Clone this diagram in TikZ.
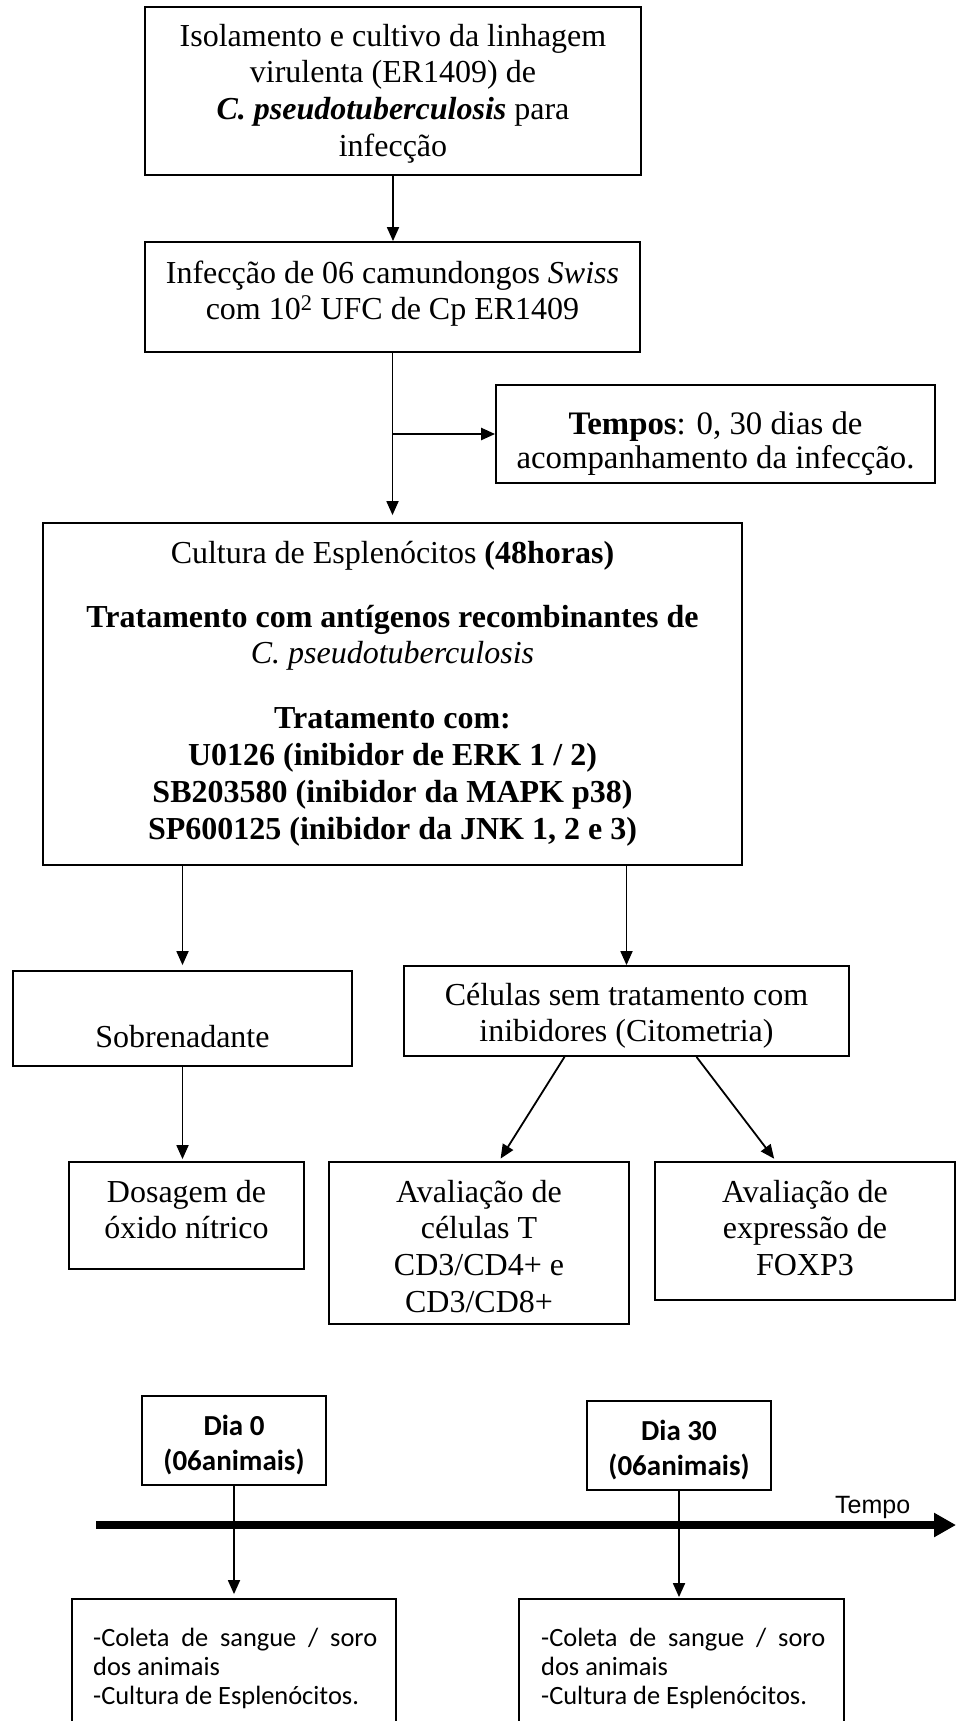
\documentclass[tikz,border=0pt]{standalone}
\usepackage{fontspec}
\setmainfont{Liberation Serif}
\newfontfamily\calfont{Carlito}
\newfontfamily\arialfont{Liberation Sans}
\usetikzlibrary{arrows.meta}
\begin{document}
\begin{tikzpicture}[x=1pt,y=-1pt,
  box/.style={draw, line width=1.8pt, inner sep=0pt},
  tx/.style={align=center, inner sep=0pt, anchor=north, font=\fontsize{32}{36.7}\selectfont},
  txd/.style={align=center, inner sep=0pt, anchor=north, font=\calfont\bfseries\fontsize{29}{35}\selectfont},
  txc/.style={align=justify, text width=284pt, inner sep=0pt, anchor=north west, font=\calfont\fontsize{26.4}{29}\selectfont},
  arr/.style={line width=1.8pt, -{Triangle[length=14pt,width=12pt]}},
]
\useasboundingbox (0,0) rectangle (956,1721);

% boxes
\node[box, minimum width=496pt, minimum height=168pt] (b1) at (393,91) {};
\node[box, minimum width=495pt, minimum height=110pt] (b2) at (392.5,297) {};
\node[box, minimum width=439pt, minimum height=98pt] (tp) at (715.5,434) {};
\node[box, minimum width=699pt, minimum height=342pt] (big) at (392.5,694) {};
\node[box, minimum width=339pt, minimum height=95pt] (sob) at (182.5,1018.5) {};
\node[box, minimum width=445pt, minimum height=90pt] (cel) at (626.5,1011) {};
\node[box, minimum width=235pt, minimum height=107pt] (dos) at (186.5,1215.5) {};
\node[box, minimum width=300pt, minimum height=162pt] (cd) at (479,1243) {};
\node[box, minimum width=300pt, minimum height=138pt] (fox) at (805,1231) {};
\node[box, minimum width=184pt, minimum height=89pt] (d0) at (234,1440.5) {};
\node[box, minimum width=184pt, minimum height=89pt] (d30) at (679,1445.5) {};
\node[box, minimum width=324pt, minimum height=161pt] (bl) at (234,1679.5) {};
\node[box, minimum width=325pt, minimum height=161pt] (br) at (681.5,1679.5) {};

% texts
\node[tx] (t1) at (393,20.3) {\strut Isolamento e cultivo da linhagem\\ virulenta (ER1409) de\\ \textbf{\textit{C. pseudotuberculosis}} para\\ infecção};
\node[tx] (t2) at (392.5,257.3) {\strut Infecção de 06 camundongos \textit{Swiss}\\ com 10\textsuperscript{2} UFC de Cp ER1409};
\node[tx, font=\fontsize{32.8}{34}\selectfont] (t3) at (715.5,410.2) {\strut\textbf{Tempos}: 0, 30 dias de\\ acompanhamento da infecção.};
\node[tx] (t4) at (392.5,537.3) {\strut Cultura de Esplenócitos \textbf{(48horas)}\\[27.3pt]
  \textbf{Tratamento com antígenos recombinantes de}\\
  \textit{C. pseudotuberculosis}\\[28.3pt]
  \textbf{Tratamento com:}\\
  \textbf{U0126 (inibidor de ERK 1 / 2)}\\
  \textbf{SB203580 (inibidor da MAPK p38)}\\
  \textbf{SP600125 (inibidor da JNK 1, 2 e 3)}};
\node[tx] (t5) at (182.5,1021.3) {\strut Sobrenadante};
\node[tx] (t6) at (626.5,979.3) {\strut Células sem tratamento com\\ inibidores (Citometria)};
\node[tx] (t7) at (186.5,1176.3) {\strut Dosagem de\\ óxido nítrico};
\node[tx] (t8) at (479,1176.3) {\strut Avaliação de\\ células T\\ CD3/CD4+ e\\ CD3/CD8+};
\node[tx] (t9) at (805,1176.3) {\strut Avaliação de\\ expressão de\\ FOXP3};

% arrows
\draw[arr] (b1.south) -- (b1.south |- b2.north);
\draw[arr, shorten >=7pt] (b2.south) -- (b2.south |- big.north);
\draw[arr, line width=2.4pt] (b2.south |- tp.west) -- (tp.west);
\draw[arr, shorten >=5pt] (sob.north |- big.south) -- (sob.north);
\draw[arr] (cel.north |- big.south) -- (cel.north);
\draw[arr, shorten >=2pt] (sob.south) -- (sob.south |- dos.north);
\draw[arr, shorten >=3pt] ([xshift=-62pt]cel.south) -- ([xshift=20pt]cd.north);
\draw[arr, shorten >=3pt] ([xshift=70pt]cel.south) -- ([xshift=-29pt]fox.north);

% timeline
\draw[arr, shorten >=4pt] (d0.south) -- (bl.north);
\draw[arr, shorten >=1pt] (d30.south) -- (d30.south |- br.north);
\coordinate (ta) at (96,1525);
\coordinate (tb) at (956,1525);
\draw[line width=8pt, -{Triangle[length=22pt,width=23pt]}] (ta) -- (tb);
\node[anchor=base west, inner sep=0pt, font=\arialfont\fontsize{25}{30}\selectfont] (tempo) at (835,1513) {Tempo};

\node[txd] (t10) at (234,1410.5) {\strut Dia 0\\ (06animais)};
\node[txd] (t11) at (679,1415.5) {\strut Dia 30\\ (06animais)};
\node[txc] (t12) at (93,1625.7) {\strut\hyphenpenalty=10000\tolerance=10000 -Coleta de sangue / soro dos animais\par -Cultura de Esplenócitos.};
\node[txc] (t13) at (541,1625.7) {\strut\hyphenpenalty=10000\tolerance=10000 -Coleta de sangue / soro dos animais\par -Cultura de Esplenócitos.};
\end{tikzpicture}
\end{document}
